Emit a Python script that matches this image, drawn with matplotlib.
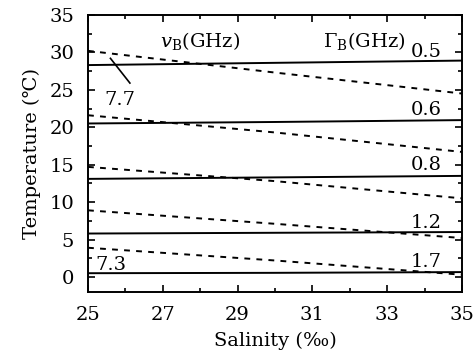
import numpy as np
import matplotlib.pyplot as plt

plt.rcParams['font.family'] = ['DejaVu Serif', 'DejaVu Sans']
plt.rcParams['mathtext.fontset'] = 'dejavuserif'

salinity = [25, 30, 35]

# solid lines: Brillouin linewidth contours (GHz)
gamma_levels = ['0.5', '0.6', '0.8', '1.2', '1.7']
gamma_lines = [
    [28.3, 28.6, 28.9],
    [20.5, 20.7, 20.95],
    [13.1, 13.3, 13.5],
    [5.8, 5.9, 6.0],
    [0.5, 0.55, 0.65],
]

# dashed lines: Brillouin frequency shift contours
nu_lines = [
    [30.2, 27.3, 24.5],
    [21.6, 19.3, 16.7],
    [14.7, 12.8, 10.5],
    [8.9, 7.1, 5.2],
    [3.9, 2.2, 0.3],
]

fig = plt.figure(figsize=(4.77, 3.64), dpi=100)
ax = fig.add_axes([0.1845, 0.198, 0.784, 0.761])

for t in gamma_lines:
    ax.plot(salinity, t, color='black', lw=1.4)
for t in nu_lines:
    ax.plot(salinity, t, color='black', lw=1.4, linestyle=(0, (3, 3.2)))

ax.set_xlim(25, 35)
ax.set_ylim(-2, 35)
ax.set_xticks([25, 27, 29, 31, 33, 35])
ax.set_xticks(np.arange(26, 35, 2), minor=True)
ax.set_yticks([0, 5, 10, 15, 20, 25, 30, 35])
ax.set_yticks(np.arange(2.5, 35, 5), minor=True)
ax.tick_params(which='both', direction='in', top=True, right=True, labelsize=14, width=1.2)
ax.tick_params(which='major', length=5, pad=10)
ax.tick_params(which='minor', length=3)
for s in ax.spines.values():
    s.set_linewidth(1.4)

ax.set_xlabel('Salinity (‰)', fontsize=14, labelpad=6)
ax.set_ylabel('Temperature (℃)', fontsize=14, labelpad=6)

ax.text(28.0, 31.5, r'$v_{\rm B}$(GHz)', fontsize=14, ha='center', va='center')
ax.text(32.4, 31.5, r'$\Gamma_{\rm B}$(GHz)', fontsize=14, ha='center', va='center')

label_y = [30.0, 22.3, 14.9, 7.25, 2.05]
for lab, y in zip(gamma_levels, label_y):
    ax.text(34.45, y, lab, fontsize=14, ha='right', va='center')

ax.text(25.45, 23.6, '7.7', fontsize=14, ha='left', va='center')
ax.plot([25.6, 26.12], [29.2, 25.9], color='black', lw=1.2)
ax.text(25.2, 1.6, '7.3', fontsize=14, ha='left', va='center')

fig.savefig('out.png', dpi=100)
